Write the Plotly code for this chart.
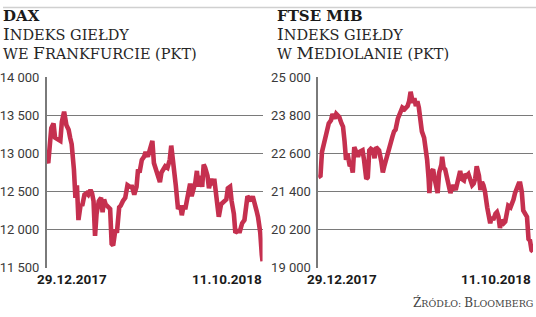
import plotly.graph_objects as go
import pandas as pd

# ---------------- data ----------------
dax_days = [0, 2, 6, 8, 9, 11, 15, 18, 20, 23, 26, 29, 31, 33, 36, 38, 40, 42, 45, 47, 50, 53, 55, 58,
            60, 62, 64, 66, 69, 72, 74, 76, 78, 81, 84, 86, 88, 91, 93, 96, 98, 101, 104, 107, 110, 113,
            116, 119, 121, 123, 126, 129, 131, 134, 136, 138, 140, 142, 145, 148, 150, 152, 155, 157, 160,
            163, 165, 167, 170, 171, 174, 177, 179, 181, 184, 186, 188, 190, 192, 195, 197, 199, 201, 203,
            206, 208, 210, 213, 215, 218, 220, 222, 225, 227, 228, 231, 233, 236, 238, 240, 243, 245, 248,
            250, 253, 256, 259, 262, 264, 266, 268, 271, 273, 275, 278, 280, 283, 285, 286]
dax_vals = [12917, 12875, 13333, 13375, 13396, 13208, 13188, 13167, 13417, 13550, 13375, 13313, 13208,
            13125, 12792, 12417, 12583, 12125, 12333, 12313, 12458, 12479, 12458, 12521, 12479, 12375,
            11917, 12208, 12375, 12417, 12229, 12396, 12333, 12292, 12271, 11813, 11792, 12000, 11958,
            12292, 12313, 12375, 12417, 12583, 12563, 12563, 12458, 12563, 12792, 12750, 12917, 12958,
            13021, 12958, 13042, 13125, 13167, 12875, 12792, 12667, 12625, 12750, 12792, 12833, 12813,
            12917, 13104, 12958, 12688, 12583, 12271, 12313, 12188, 12292, 12292, 12417, 12500, 12604,
            12438, 12542, 12625, 12771, 12563, 12708, 12563, 12854, 12813, 12708, 12542, 12667, 12583,
            12667, 12417, 12333, 12167, 12333, 12354, 12396, 12396, 12542, 12563, 12375, 12208, 11958,
            11979, 11979, 12083, 12125, 12250, 12438, 12417, 12375, 12438, 12333, 12250, 12167, 11958,
            11667, 11583]

mib_days = [0, 3, 5, 8, 11, 14, 17, 19, 22, 24, 26, 28, 31, 33, 35, 37, 39, 42, 44, 46, 48, 50, 53, 55,
            57, 59, 61, 64, 66, 68, 70, 73, 75, 77, 79, 81, 84, 86, 88, 90, 92, 95, 97, 99, 101, 103, 106,
            108, 110, 112, 115, 117, 119, 121, 123, 126, 128, 130, 132, 134, 137, 138, 141, 143, 145, 147,
            148, 150, 153, 155, 157, 159, 161, 164, 165, 167, 169, 172, 174, 176, 178, 180, 183, 185, 187,
            189, 191, 194, 196, 198, 200, 202, 205, 207, 209, 211, 214, 216, 218, 220, 222, 225, 227, 229,
            231, 233, 236, 238, 240, 242, 244, 247, 249, 251, 253, 256, 258, 260, 262, 264, 267, 269, 271,
            273, 275, 278, 280, 282, 284, 286]
mib_vals = [21850, 21900, 22650, 22900, 23250, 23550, 23650, 23850, 23700, 23850, 23800, 23750, 23550,
            23450, 23000, 22400, 22600, 22200, 22250, 22000, 22800, 22650, 22500, 22650, 22700, 22700,
            22400, 21800, 21850, 22700, 22750, 22700, 22450, 22800, 22750, 22700, 22350, 22000, 22200,
            22400, 22450, 22850, 23000, 23150, 23300, 23350, 23700, 23800, 23950, 24050, 24000, 24050,
            24100, 24250, 24550, 24200, 24350, 24100, 24250, 24050, 23600, 23300, 23100, 22800, 22400,
            21800, 21350, 22000, 22100, 21800, 21500, 21350, 22000, 22250, 22500, 22150, 22100, 21800,
            21500, 21350, 21500, 21600, 21450, 21700, 21900, 22050, 21800, 21750, 21950, 21900, 21950,
            21800, 21600, 21650, 21800, 22200, 21900, 21450, 21700, 21600, 21400, 20900, 20600, 20400,
            20600, 20500, 20700, 20750, 20600, 20250, 20500, 20400, 20450, 20800, 20950, 20900, 21000,
            21150, 21350, 21500, 21650, 21650, 21400, 20800, 20700, 20600, 19900, 19850, 19550, 19500]

start_date = "2017-12-29"
date_labels = ["29.12.2017", "11.10.2018"]

dax_ticks = [11500, 12000, 12500, 13000, 13500, 14000]
dax_ticktext = ["11 500", "12 000", "12 500", "13 000", "13 500", "14 000"]
mib_ticks = [19000, 20200, 21400, 22600, 23800, 25000]
mib_ticktext = ["19 000", "20 200", "21 400", "22 600", "23 800", "25 000"]

titles = [("DAX", "Indeks giełdy", "we Frankfurcie (pkt)"),
          ("FTSE MIB", "Indeks giełdy", "w Mediolanie (pkt)")]
source = "Źródło: Bloomberg"

# ---------------- style ----------------
W, H = 536, 317
LINE = "#c5304f"
GRID = "#7a7a7a"
SERIF = "DejaVu Serif"
SANS = "Roboto"

t0 = pd.Timestamp(start_date)
dax_x = [t0 + pd.Timedelta(days=d) for d in dax_days]
mib_x = [t0 + pd.Timedelta(days=d) for d in mib_days]
t_end = t0 + pd.Timedelta(days=286)


def small_caps(s, big, small):
    out = []
    for ch in s:
        if ch.isupper():
            out.append(f'<span style="font-size:{big}px">{ch}</span>')
        elif ch.islower():
            out.append(f'<span style="font-size:{small}px">{ch.upper()}</span>')
        else:
            out.append(f'<span style="font-size:{small}px">{ch}</span>')
    return "".join(out)


fig = go.Figure()
fig.add_trace(go.Scatter(x=dax_x, y=dax_vals, mode="lines", xaxis="x", yaxis="y",
                         line=dict(color=LINE, width=4.6), hoverinfo="skip", showlegend=False))
fig.add_trace(go.Scatter(x=mib_x, y=mib_vals, mode="lines", xaxis="x2", yaxis="y2",
                         line=dict(color=LINE, width=4.6), hoverinfo="skip", showlegend=False))

px = lambda v: v / W
py = lambda v: 1 - v / H

dom1 = [px(44), px(261)]
dom2 = [px(317), px(533)]
ydom = [py(273.5), py(74)]

xcommon = dict(range=[t0, t_end], showgrid=False, showticklabels=False, zeroline=False,
               showline=False, ticks="", fixedrange=True)
ycommon = dict(showgrid=True, gridcolor=GRID, gridwidth=1, zeroline=False, showline=True,
               linecolor=GRID, linewidth=1.5, ticks="", ticklabelstandoff=3,
               tickfont=dict(family=SANS, size=13, color="#3a3a3a"), fixedrange=True)

fig.update_layout(
    width=W, height=H, margin=dict(l=0, r=0, t=0, b=0),
    paper_bgcolor="white", plot_bgcolor="white",
    xaxis=dict(domain=dom1, anchor="y", **xcommon),
    xaxis2=dict(domain=dom2, anchor="y2", **xcommon),
    yaxis=dict(domain=ydom, anchor="x", range=[11500, 14000], tickvals=dax_ticks,
               ticktext=dax_ticktext, **ycommon),
    yaxis2=dict(domain=ydom, anchor="x2", range=[19000, 25000], tickvals=mib_ticks,
                ticktext=mib_ticktext, **ycommon),
)

anns = []
layout_pos = [(32, 262, -2), (304, 533, 274)]
for i, (xl, xr, xt) in enumerate(layout_pos):
    anns.append(dict(xref="paper", yref="paper", x=px(xl), y=py(285), xanchor="left", yanchor="middle",
                     text=f"<b>{date_labels[0]}</b>", showarrow=False,
                     font=dict(family=SANS, size=13.5, color="#1a1a1a")))
    anns.append(dict(xref="paper", yref="paper", x=px(xr), y=py(285), xanchor="right", yanchor="middle",
                     text=f"<b>{date_labels[1]}</b>", showarrow=False,
                     font=dict(family=SANS, size=13.5, color="#1a1a1a")))
    t1, t2, t3 = titles[i]
    anns.append(dict(xref="paper", yref="paper", x=px(xt), y=py(9.5), xanchor="left", yanchor="middle",
                     text=f"<b>{t1}</b>", showarrow=False,
                     font=dict(family=SERIF, size=15, color="#1a1a1a")))
    anns.append(dict(xref="paper", yref="paper", x=px(xt), y=py(28.5), xanchor="left", yanchor="middle",
                     text=small_caps(t2, 17, 14.5), showarrow=False,
                     font=dict(family=SERIF, size=17, color="#262626")))
    anns.append(dict(xref="paper", yref="paper", x=px(xt), y=py(48.5), xanchor="left", yanchor="middle",
                     text=small_caps(t3, 17, 14.5), showarrow=False,
                     font=dict(family=SERIF, size=17, color="#262626")))

anns.append(dict(xref="paper", yref="paper", x=px(535), y=py(310.5), xanchor="right", yanchor="middle",
                 text=small_caps(source, 12, 9.5), showarrow=False,
                 font=dict(family=SERIF, size=12, color="#444444")))
fig.update_layout(annotations=anns)

fig.add_shape(type="line", xref="paper", yref="paper", x0=0, x1=1, y0=py(0.5), y1=py(0.5),
              line=dict(color="#d0d0d0", width=1.5))

fig.write_html("out.html")
